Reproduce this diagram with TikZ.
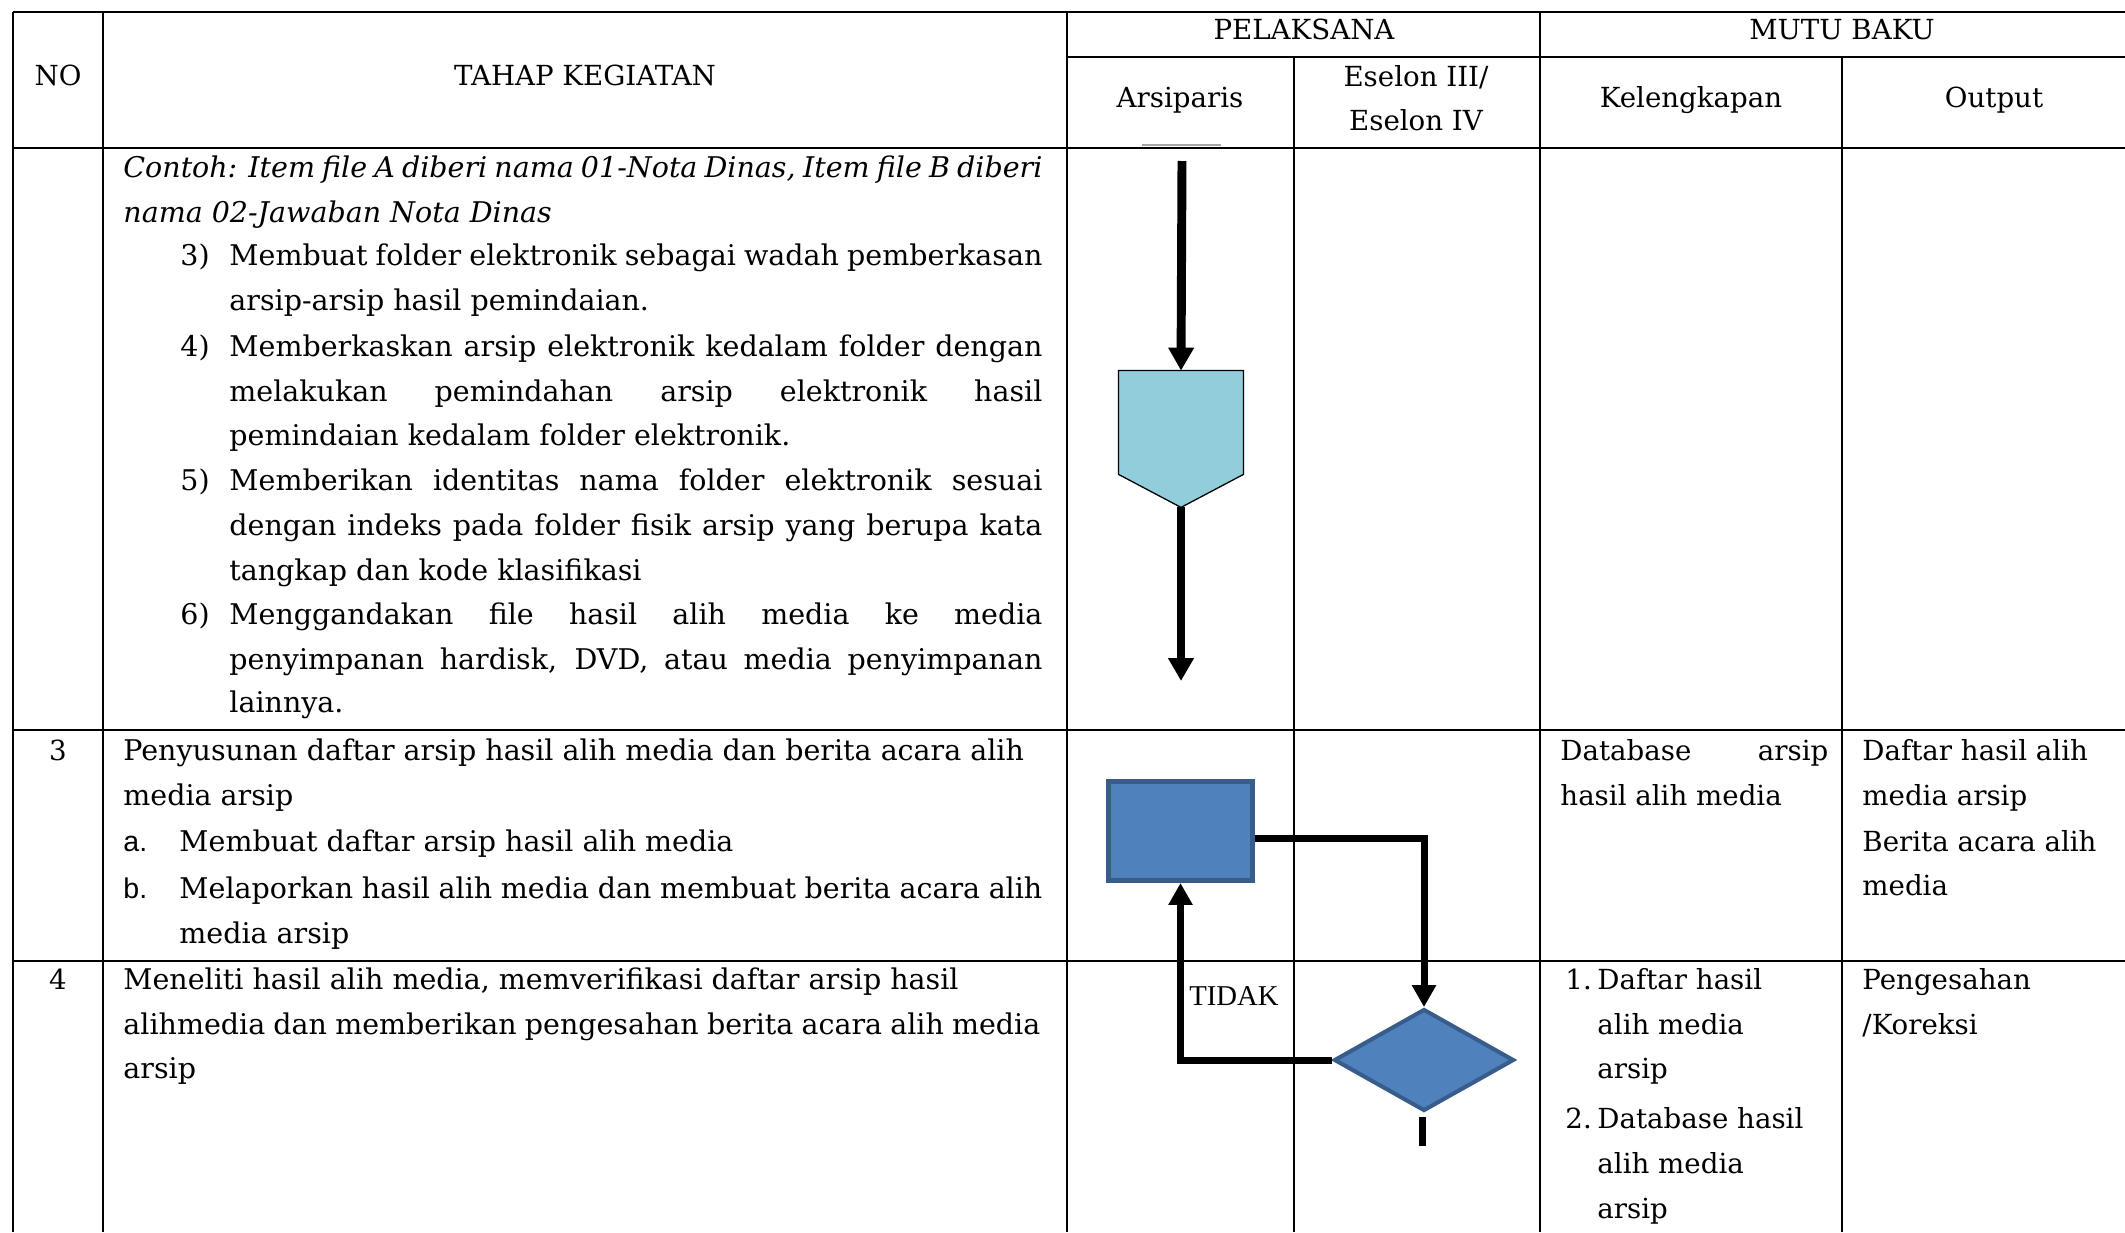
\documentclass[tikz,border=0pt]{standalone}
\usepackage{fontspec}
\setmainfont{DejaVu Serif}
\newfontfamily\arialf{Liberation Sans}
\newfontfamily\timesf{Liberation Serif}
\usetikzlibrary{arrows.meta,shapes.geometric,calc}
\definecolor{rectfill}{HTML}{4F81BD}
\definecolor{rectline}{HTML}{385D8A}
\definecolor{pentfill}{HTML}{92CDDC}
\newcommand{\jline}[2]{\makebox[\dimexpr #1pt*47/100\relax][s]{#2}}
\begin{document}
\begin{tikzpicture}[x=0.47pt,y=-0.47pt,
  txt/.style={anchor=mid west,inner sep=0pt,yshift=-1.9pt,font=\fontsize{13}{16}\selectfont},
  body/.style={txt,font=\fontsize{13.4}{16}\selectfont},
  ctr/.style={anchor=mid,inner sep=0pt,yshift=-1.9pt,font=\fontsize{13}{16}\selectfont},
  grid/.style={line width=0.7pt},
  flowthick/.style={line width=4.2pt,-{Triangle[width=11.5pt,length=10.8pt]}},
  flow/.style={line width=3.3pt,-{Triangle[width=10.8pt,length=10.3pt]}},
  flowplain/.style={line width=3.3pt}]
\useasboundingbox (0,0) rectangle (2125,1232);
\fill[white] (0,0) rectangle (2125,1232);
% table grid
\draw[grid] (13,12) -- (2125,12);
\draw[grid] (1067,57) -- (2125,57);
\draw[grid] (13,148) -- (2125,148);
\draw[grid] (13,730) -- (2125,730);
\draw[grid] (13,961) -- (2125,961);
\draw[grid] (13,12) -- (13,1232);
\draw[grid] (103,12) -- (103,1232);
\draw[grid] (1067,12) -- (1067,1232);
\draw[grid] (1294,57) -- (1294,1232);
\draw[grid] (1540,12) -- (1540,1232);
\draw[grid] (1842,57) -- (1842,1232);
% header
\node[ctr] (hno) at (58,76) {NO};
\node[ctr] (htahap) at (585,76) {TAHAP KEGIATAN};
\node[ctr] (hpel) at (1304,30) {PELAKSANA};
\node[ctr] (hmutu) at (1842,30) {MUTU BAKU};
\node[ctr] (harsip) at (1180,98) {Arsiparis};
\node[ctr] (hes1) at (1416,77) {Eselon III/};
\node[ctr] (hes2) at (1416,121) {Eselon IV};
\node[ctr] (hkel) at (1691,98) {Kelengkapan};
\node[ctr] (hout) at (1994,98) {Output};
% row 2 (continued)
\node[body] (r2a) at (123,168) {\jline{919}{\itshape Contoh: Item file A diberi nama 01-Nota Dinas, Item file B diberi}};
\node[body] (r2b) at (123,213) {\itshape nama 02-Jawaban Nota Dinas};
\node[body] (r2n3) at (180,256) {3)};
\node[body] (r2c) at (229,256) {\jline{813}{Membuat folder elektronik sebagai wadah pemberkasan}};
\node[body] (r2d) at (229,301) {arsip-arsip hasil pemindaian.};
\node[body] (r2n4) at (180,347) {4)};
\node[body] (r2e) at (229,347) {\jline{813}{Memberkaskan arsip elektronik kedalam folder dengan}};
\node[body] (r2f) at (229,392) {\jline{813}{melakukan pemindahan arsip elektronik hasil}};
\node[body] (r2g) at (229,436) {pemindaian kedalam folder elektronik.};
\node[body] (r2n5) at (180,481) {5)};
\node[body] (r2h) at (229,481) {\jline{813}{Memberikan identitas nama folder elektronik sesuai}};
\node[body] (r2i) at (229,526) {\jline{813}{dengan indeks pada folder fisik arsip yang berupa kata}};
\node[body] (r2j) at (229,571) {tangkap dan kode klasifikasi};
\node[body] (r2n6) at (180,615) {6)};
\node[body] (r2k) at (229,615) {\jline{813}{Menggandakan file hasil alih media ke media}};
\node[body] (r2l) at (229,660) {\jline{813}{penyimpanan hardisk, DVD, atau media penyimpanan}};
\node[body] (r2m) at (229,703) {lainnya.};
% row 3
\node[ctr] (n3) at (58,751) {3};
\node[body] (r3a) at (123,751) {Penyusunan daftar arsip hasil alih media dan berita acara alih};
\node[body] (r3b) at (123,796) {media arsip};
\node[body,font=\fontsize{13.4}{16}\arialf] (r3la) at (123,842) {a.};
\node[body] (r3c) at (179,842) {Membuat daftar arsip hasil alih media};
\node[body,font=\fontsize{13.4}{16}\arialf] (r3lb) at (123,889) {b.};
\node[body] (r3d) at (179,889) {\jline{863}{Melaporkan hasil alih media dan membuat berita acara alih}};
\node[body] (r3e) at (179,934) {media arsip};
\node[txt] (k3a) at (1560,751) {\jline{268}{Database arsip}};
\node[txt] (k3b) at (1560,796) {hasil alih media};
\node[txt] (o3a) at (1862,751) {Daftar hasil alih};
\node[txt] (o3b) at (1862,796) {media arsip};
\node[txt] (o3c) at (1862,842) {Berita acara alih};
\node[txt] (o3d) at (1862,886) {media};
% row 4
\node[ctr] (n4) at (58,980) {4};
\node[body] (r4a) at (123,980) {Meneliti hasil alih media, memverifikasi daftar arsip hasil};
\node[body] (r4b) at (123,1025) {\jline{917}{alihmedia dan memberikan pengesahan berita acara alih media}};
\node[body] (r4c) at (123,1069) {arsip};
\node[txt] (k4n1) at (1565,980) {1.};
\node[txt] (k4a) at (1597,980) {Daftar hasil};
\node[txt] (k4b) at (1597,1025) {alih media};
\node[txt] (k4c) at (1597,1069) {arsip};
\node[txt] (k4n2) at (1565,1119) {2.};
\node[txt] (k4d) at (1597,1119) {Database hasil};
\node[txt] (k4e) at (1597,1164) {alih media};
\node[txt] (k4f) at (1597,1209) {arsip};
\node[txt] (o4a) at (1862,980) {Pengesahan};
\node[txt] (o4b) at (1862,1025) {/Koreksi};
% flow: row 2
\draw[line width=1.4pt,color=black!35] (1142,145) -- (1221,145);
\coordinate (a1s) at (1182,161);
\node[draw=none,minimum width=58.3pt,minimum height=63.9pt,inner sep=0pt] (pent) at (1181,439) {};
\filldraw[fill=pentfill,draw=black,line width=0.6pt]
  (pent.north west) -- (pent.north east) -- ($(pent.south east)+(0,-33)$)
  -- (pent.south) -- ($(pent.south west)+(0,-33)$) -- cycle;
\coordinate (a2e) at (1181,681);
\draw[flowthick] (a1s) -- (pent.north);
\draw[flowthick] (pent.south) -- (a2e);
% flow: rows 3-4
\node[draw=rectline,fill=rectfill,line width=2.35pt,minimum width=67.7pt,minimum height=46.5pt,inner sep=0pt] (rect) at (1180.5,831) {};
\node[diamond,draw=rectline,fill=rectfill,line width=1.9pt,minimum width=84.6pt,minimum height=47.9pt,inner sep=0pt] (dia) at (1424,1060) {};
\draw[flow] ($(rect.east)+(0,7)$) -| (dia.north);
\draw[flow] (dia.west) -| (rect.south);
\draw[flowplain] ($(dia.south)+(-2,4)$) -- ++(0,29) coordinate (tail);
\node[inner sep=0pt,font=\fontsize{13.5}{16}\timesf] (tidak) at (1234,996) {TIDAK};
\end{tikzpicture}
\end{document}
